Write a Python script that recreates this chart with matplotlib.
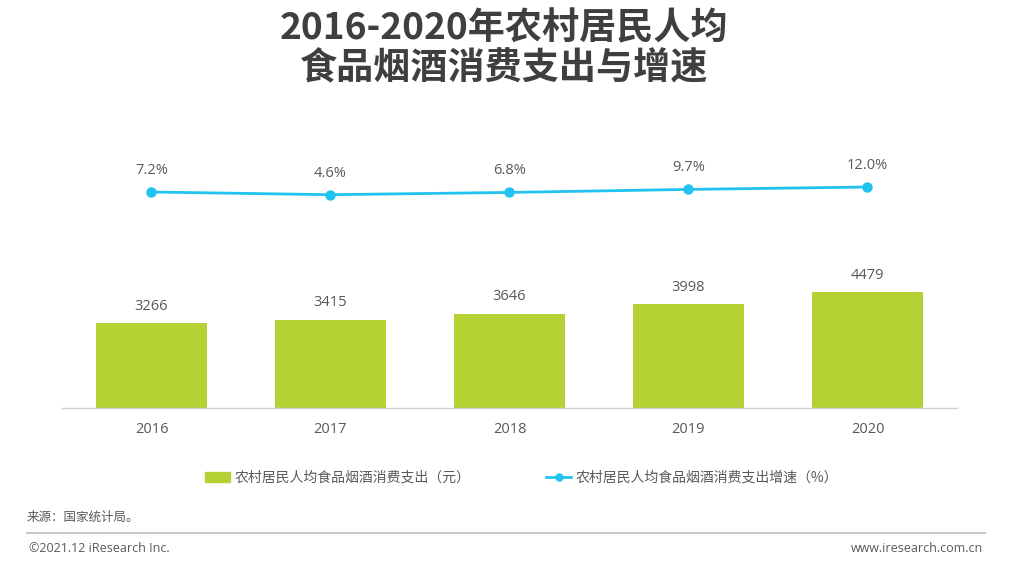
import matplotlib
matplotlib.use('Agg')
import matplotlib.pyplot as plt
from matplotlib.lines import Line2D

plt.rcParams['font.family'] = ['Noto Sans CJK SC', 'DejaVu Sans']

# data
years = ['2016', '2017', '2018', '2019', '2020']
spending = [3266, 3415, 3646, 3998, 4479]          # 元
growth = [7.2, 4.6, 6.8, 9.7, 12.0]                # %

title = '2016-2020年农村居民人均\n食品烟酒消费支出与增速'
bar_label = '农村居民人均食品烟酒消费支出（元）'
line_label = '农村居民人均食品烟酒消费支出增速（%）'
source = '来源：国家统计局。'
copyright_txt = '©2021.12 iResearch Inc.'
website = 'www.iresearch.com.cn'

GREEN = '#b4d234'
BLUE = '#22c3f0'
GREY = '#595959'
NUM_FONT = ['Open Sans', 'Noto Sans CJK SC']

fig = plt.figure(figsize=(10.19, 5.72), dpi=100)
ax = fig.add_axes([62 / 1019, 1 - 408.3 / 572, (957 - 62) / 1019, 258.3 / 572])
ax2 = ax.twinx()

x = list(range(len(years)))
bars = ax.bar(x, spending, width=0.625, color=GREEN, zorder=2)
ax.set_xlim(-0.5, 4.5)
ax.set_ylim(0, 9935)

for xi, v in zip(x, spending):
    ax.annotate(str(v), (xi, v), xytext=(0, 12), textcoords='offset points',
                ha='center', va='center', fontsize=10.5, color=GREY, family=NUM_FONT)

line, = ax2.plot(x, growth, color=BLUE, lw=2, marker='o', markersize=6.5, zorder=3)
ax2.set_ylim(-200.8, 47.6)
for xi, v in zip(x, growth):
    ax2.annotate(f'{v:.1f}%', (xi, v), xytext=(0, 15.5), textcoords='offset points',
                 ha='center', va='center', fontsize=10.5, color=GREY, family=NUM_FONT)

for a in (ax, ax2):
    for side in ('top', 'right', 'left'):
        a.spines[side].set_visible(False)
    a.set_yticks([])
ax.spines['bottom'].set_color('#d0d0d0')
ax.spines['bottom'].set_linewidth(1)
ax2.spines['bottom'].set_visible(False)

ax.set_xticks(x)
ax.set_xticklabels(years, fontsize=10.5, color=GREY, family=NUM_FONT)
ax.tick_params(axis='x', length=0, pad=10)

fig.text(0.495, 1 - 49 / 572, title, ha='center', va='center', fontsize=26.7,
         fontweight='bold', color='#3f3f3f', linespacing=1.08)

bar_handle = plt.Rectangle((0, 0), 1, 1, color=GREEN)
line_handle = Line2D([], [], color=BLUE, lw=2, marker='o', markersize=5)
fig.legend([bar_handle, line_handle], [bar_label, line_label], ncol=2,
           loc='center', bbox_to_anchor=(521.5 / 1019, 1 - 478 / 572),
           frameon=False, fontsize=10, handlelength=1.8, handletextpad=0.3,
           columnspacing=5.5, labelcolor=GREY)

fig.text(27 / 1019, 1 - 517 / 572, source, ha='left', va='center', fontsize=9, color=GREY)
fig.add_artist(Line2D([27 / 1019, 985 / 1019], [1 - 533 / 572, 1 - 533 / 572],
                      color='#c8c8c8', lw=1.5))
fig.text(29 / 1019, 1 - 548 / 572, copyright_txt, ha='left', va='center', fontsize=9,
         color=GREY, family=NUM_FONT)
fig.text(983 / 1019, 1 - 548 / 572, website, ha='right', va='center', fontsize=9,
         color=GREY, family=NUM_FONT)

fig.savefig('out.png', dpi=100)
